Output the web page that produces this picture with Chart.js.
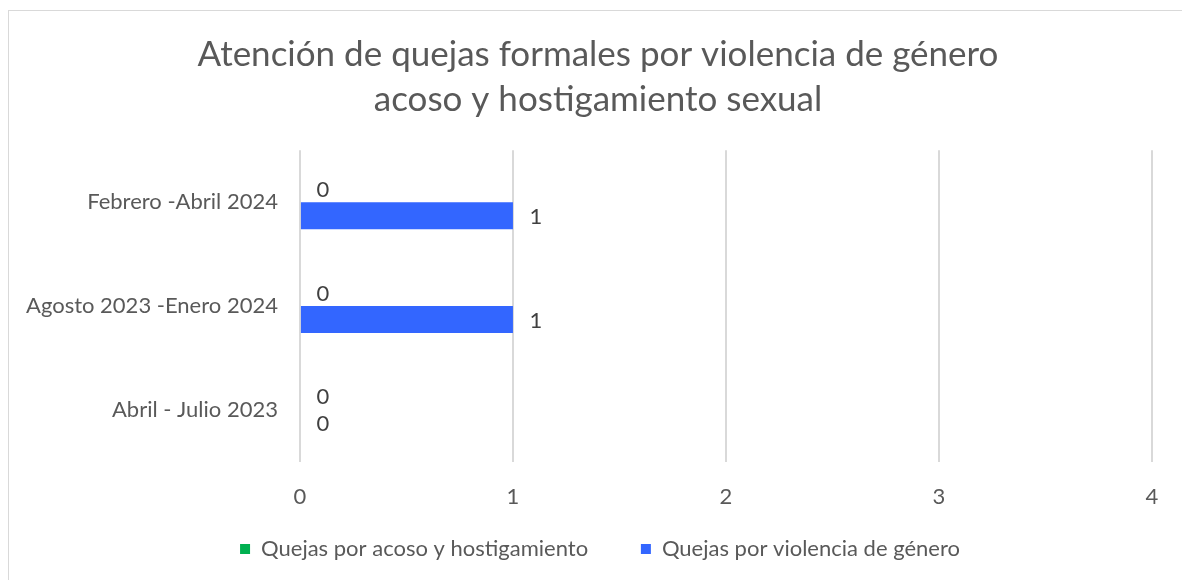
<!DOCTYPE html>
<html>
<head>
<meta charset="utf-8">
<script src="https://cdn.jsdelivr.net/npm/chart.js@4/dist/chart.umd.min.js"></script>
<style>
  html, body { margin: 0; padding: 0; background: #ffffff; }
  #wrap { position: relative; width: 1182px; height: 580px; }
</style>
</head>
<body>
<div id="wrap"><canvas id="c"></canvas></div>
<script>
const categories = ["Febrero -Abril 2024", "Agosto 2023 -Enero 2024", "Abril - Julio 2023"];
const acosoValues = [0, 0, 0];
const violenciaValues = [1, 1, 0];
const seriesNames = ["Quejas por acoso y hostigamiento", "Quejas por violencia de género"];
const xTicks = [0, 1, 2, 3, 4];
const titleLines = ["Atención de quejas formales por violencia de género", "acoso y hostigamiento sexual"];

const FONT = "Lato, 'Open Sans', sans-serif";

const borderPlugin = {
  id: 'frame',
  beforeDraw(chart) {
    const ctx = chart.ctx;
    ctx.save();
    ctx.fillStyle = '#ffffff';
    ctx.fillRect(0, 0, chart.width, chart.height);
    ctx.strokeStyle = '#d9d9d9';
    ctx.lineWidth = 1;
    ctx.strokeRect(8.5, 10.5, chart.width + 20, chart.height + 20);
    ctx.restore();
  }
};

const boxShift = {
  id: 'boxShift',
  afterLayout(chart) {
    if (chart.legend) {
      chart.legend.left += 22;
      chart.legend.right += 22;
    }
    if (chart.titleBlock) {
      chart.titleBlock.left += 20;
      chart.titleBlock.right += 20;
    }
  }
};

const labelPlugin = {
  id: 'barLabels',
  afterDatasetsDraw(chart) {
    const ctx = chart.ctx;
    ctx.save();
    ctx.font = "22px " + FONT;
    ctx.fillStyle = '#404040';
    ctx.textAlign = 'center';
    ctx.textBaseline = 'middle';
    chart.data.datasets.forEach((ds, di) => {
      const meta = chart.getDatasetMeta(di);
      meta.data.forEach((bar, i) => {
        const v = ds.data[i];
        ctx.fillText(String(v), bar.x + 23, bar.y + 1);
      });
    });
    ctx.restore();
  }
};

new Chart(document.getElementById('c'), {
  type: 'bar',
  data: {
    labels: categories,
    datasets: [
      { label: seriesNames[0], data: acosoValues, backgroundColor: '#00b050', borderWidth: 0 },
      { label: seriesNames[1], data: violenciaValues, backgroundColor: '#3366ff', borderWidth: 0 }
    ]
  },
  options: {
    indexAxis: 'y',
    responsive: true,
    maintainAspectRatio: false,
    animation: false,
    categoryPercentage: 0.52,
    barPercentage: 1.0,
    layout: { padding: { top: 10, right: 30, bottom: 10, left: 4 } },
    plugins: {
      title: {
        display: true,
        text: titleLines,
        color: '#595959',
        font: { family: FONT, size: 35, weight: 'normal', lineHeight: 1.29 },
        padding: { top: 22, bottom: 28 }
      },
      legend: {
        position: 'bottom',
        labels: {
          color: '#595959',
          font: { family: FONT, size: 22 },
          boxWidth: 10,
          boxHeight: 10,
          padding: 6,
          generateLabels(chart) {
            const items = Chart.defaults.plugins.legend.labels.generateLabels(chart);
            items.forEach((it, i) => { if (i < items.length - 1) it.text = it.text + '\u2003\u2003\u2002\u2009'; });
            return items;
          }
        }
      },
      tooltip: { enabled: false }
    },
    scales: {
      x: {
        min: 0,
        max: 4,
        afterBuildTicks(axis) { axis.ticks = xTicks.map(v => ({ value: v })); },
        grid: { color: '#d9d9d9', lineWidth: 2, drawTicks: false },
        border: { display: false },
        ticks: { color: '#595959', font: { family: FONT, size: 22 }, padding: 22 }
      },
      y: {
        grid: { display: false, drawTicks: false },
        border: { display: false },
        ticks: { color: '#595959', font: { family: FONT, size: 22 }, padding: 22 }
      }
    }
  },
  plugins: [borderPlugin, boxShift, labelPlugin]
});
</script>
</body>
</html>
